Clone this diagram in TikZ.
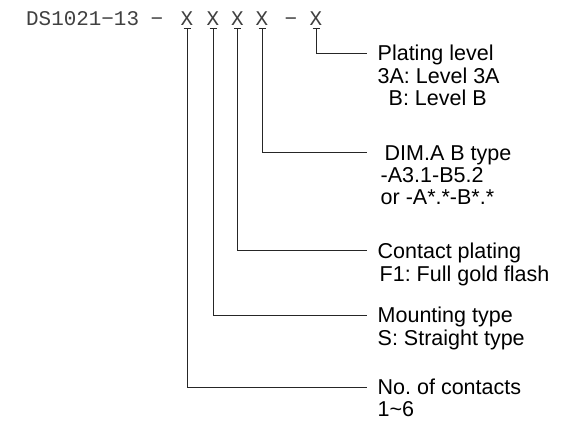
\documentclass[tikz,border=0pt]{standalone}
\usepackage{fontspec}
\setmainfont{Liberation Sans}
\newfontfamily\codefont{Liberation Mono}
\frenchspacing

\begin{document}
\begin{tikzpicture}[x=1pt,y=-1pt,
  code/.style={font=\codefont\fontsize{20.9}{22}\selectfont,text=black!75,inner sep=0pt,anchor=base},
  lab/.style={font=\fontsize{21.5}{22}\selectfont,align=left,inner sep=0pt,anchor=north west},
  lead/.style={line width=0.9pt,black!85}]
  \useasboundingbox (0,0) rectangle (562,429);
  % part number
  \node[code,anchor=base west] (pn) at (26,25) {DS1021−13};
  \node[code] (d1) at (157,25) {−};
  \node[code] (x1) at (187,25) {X};
  \node[code] (x2) at (213,25) {X};
  \node[code] (x3) at (237.5,25) {X};
  \node[code] (x4) at (262,25) {X};
  \node[code] (d2) at (291,25) {−};
  \node[code] (x5) at (316,25) {X};
  \foreach \i in {1,...,5} {
    \draw[lead] ([xshift=-3.5pt,yshift=-3pt]x\i.base) -- ([xshift=3.5pt,yshift=-3pt]x\i.base);
    \coordinate (b\i) at ([yshift=-3pt]x\i.base);
  }
  % explanations
  \node[lab] (plate) at (377.5,44.6) {\strut Plating level\\3A: Level 3A\\\hspace*{11pt}B: Level B};
  \node[lab] (dim) at (380.5,144.6) {\strut\hspace*{4pt}DIM.A B type\\-A3.1-B5.2\\or -A*.*-B*.*};
  \node[lab] (cont) at (377.5,243) {\strut Contact plating\\\hspace*{2pt}F1: Full gold flash};
  \node[lab] (mount) at (377.5,306.6) {\strut Mounting type\\S: Straight type};
  \node[lab] (num) at (377.5,378.6) {\strut No. of contacts\\1\textasciitilde 6};
  \coordinate (e1) at (367,53);
  \coordinate (e2) at (367,152);
  \coordinate (e3) at (367,250);
  \coordinate (e4) at (367,315);
  \coordinate (e5) at (367,387);
  \draw[lead] (b5) |- (e1);
  \draw[lead] (b4) |- (e2);
  \draw[lead] (b3) |- (e3);
  \draw[lead] (b2) |- (e4);
  \draw[lead] (b1) |- (e5);
\end{tikzpicture}
\end{document}
